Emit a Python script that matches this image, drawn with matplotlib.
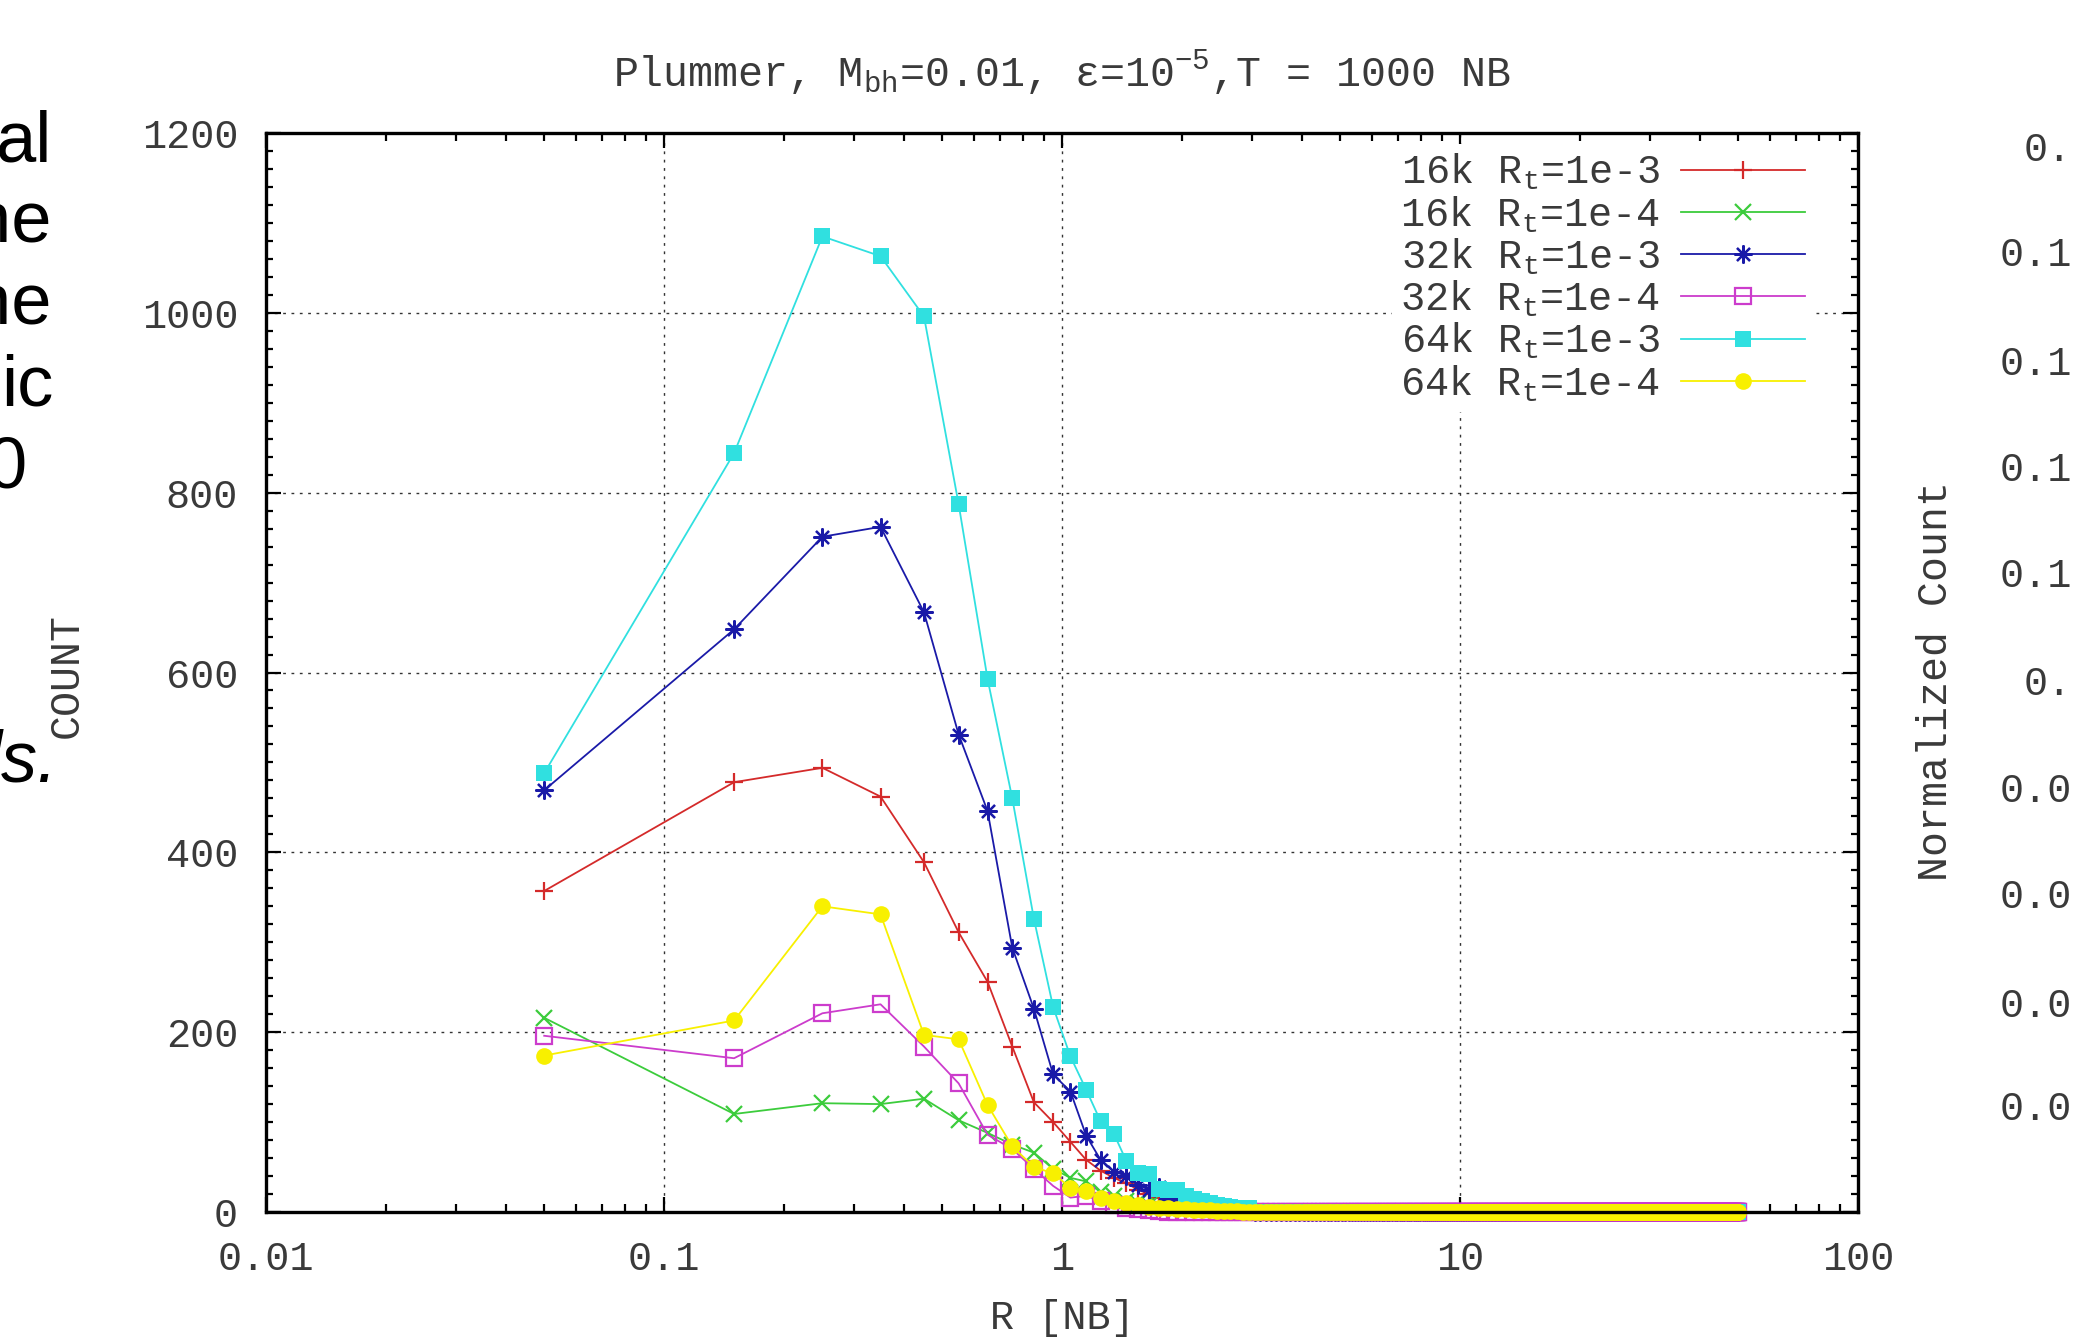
import numpy as np
import matplotlib
matplotlib.use("Agg")
import matplotlib.pyplot as plt
from matplotlib.ticker import FixedLocator, NullFormatter, MultipleLocator

plt.rcParams['font.family'] = ['Liberation Mono', 'DejaVu Sans']
plt.rcParams['mathtext.fontset'] = 'custom'
plt.rcParams['mathtext.rm'] = 'Liberation Mono'
plt.rcParams['mathtext.it'] = 'Liberation Mono:italic'

# radial bins of width 0.1 NB, centres 0.05 ... 49.95
r_bins = np.arange(500) * 0.1 + 0.05

# counts for the first 30 bins (0.05 .. 2.95); everything further out is empty
n16_1e3 = [357, 478, 494, 462, 389, 311, 256, 184, 122, 100,
           78, 58, 46, 38, 32, 25, 20, 16, 13, 10,
           8, 7, 6, 5, 4, 4, 3, 3, 2, 2]
n16_1e4 = [216, 109, 121, 120, 126, 102, 88, 75, 66, 48,
           38, 34, 22, 18, 12, 10, 8, 7, 6, 5,
           4, 4, 3, 3, 2, 2, 2, 1, 1, 1]
n32_1e3 = [469, 648, 751, 762, 667, 531, 446, 294, 226, 153,
           134, 85, 58, 45, 40, 30, 25, 28, 15, 12,
           10, 8, 6, 6, 5, 4, 4, 3, 3, 2]
n32_1e4 = [196, 171, 221, 231, 184, 143, 86, 70, 48, 29,
           16, 18, 12, 8, 5, 3, 2, 1, 0, 0,
           0, 0, 0, 0, 0, 0, 0, 0, 0, 0]
n64_1e3 = [488, 844, 1085, 1063, 996, 787, 593, 460, 326, 228,
           173, 136, 101, 87, 57, 43, 42, 26, 24, 24,
           18, 15, 12, 10, 8, 7, 6, 5, 4, 4]
n64_1e4 = [174, 213, 340, 331, 197, 192, 119, 73, 50, 43,
           27, 23, 16, 12, 10, 8, 6, 5, 4, 3,
           3, 2, 2, 2, 1, 1, 1, 1, 0, 0]
tail = [0] * 470

labels = [r'16k R$_{\mathrm{t}}$=1e-3', r'16k R$_{\mathrm{t}}$=1e-4',
          r'32k R$_{\mathrm{t}}$=1e-3', r'32k R$_{\mathrm{t}}$=1e-4',
          r'64k R$_{\mathrm{t}}$=1e-3', r'64k R$_{\mathrm{t}}$=1e-4']
series = [n16_1e3, n16_1e4, n32_1e3, n32_1e4, n64_1e3, n64_1e4]
colors = ['#d42a2a', '#3ccc3c', '#1a1aa8', '#cc3ccc', '#30e0e0', '#f8f000']
styles = [dict(marker='+', ms=13, mew=1.6),
          dict(marker='x', ms=11, mew=1.6),
          dict(marker=(8, 2, 0), ms=13, mew=1.6),
          dict(marker='s', ms=11, mew=1.6, mfc='none'),
          dict(marker='s', ms=11, mew=0),
          dict(marker='o', ms=12, mew=0)]
text_col = '#3a3a3a'

W, H = 2075, 1337
fig = plt.figure(figsize=(W / 100, H / 100), dpi=100, facecolor='white')
ax = fig.add_axes([266 / W, 1 - 1212 / H, (1858 - 266) / W, (1212 - 133) / H])

for vals, lab, c, st in zip(series, labels, colors, styles):
    ax.plot(r_bins, np.array(vals + tail), color=c, lw=1.3, label=lab,
            clip_on=False, **st)

ax.set_xscale('log')
ax.set_xlim(0.01, 100)
ax.set_ylim(0, 1200)

ax.xaxis.set_major_locator(FixedLocator([0.01, 0.1, 1, 10, 100]))
ax.set_xticklabels(['0.01', '0.1', '1', '10', '100'])
minors = [m * 10.0 ** e for e in range(-2, 2) for m in range(2, 10)]
ax.xaxis.set_minor_locator(FixedLocator(minors))
ax.xaxis.set_minor_formatter(NullFormatter())
ax.yaxis.set_major_locator(MultipleLocator(200))
ax.yaxis.set_minor_locator(MultipleLocator(20))

ax.tick_params(which='both', direction='in', top=True, right=True,
               labelsize=29, width=1.6, color='black', labelcolor=text_col)
ax.tick_params(which='major', length=11, pad=20)
ax.tick_params(which='minor', length=6)
ax.tick_params(axis='y', which='minor', length=5)
for sp in ax.spines.values():
    sp.set_linewidth(2.4)

ax.grid(True, which='major', color='#333333', lw=1.0, ls=(0, (2, 4)))
ax.set_axisbelow(True)

leg = ax.legend(loc='upper right', bbox_to_anchor=(0.972, 0.99),
                markerfirst=False, fontsize=29, frameon=True,
                facecolor='white', edgecolor='none', framealpha=1,
                handlelength=3.1, handletextpad=0.5, labelspacing=0.04,
                borderpad=0.2, borderaxespad=0)
for t in leg.get_texts():
    t.set_color(text_col)

# title and axis captions
fig.text(1062 / W, 1 - 73 / H,
         r'Plummer, M$_{\mathrm{bh}}$=0.01, ε=10$^{-5}$,T = 1000 NB',
         ha='center', va='center', fontsize=30, color=text_col)
fig.text(1062 / W, 1 - 1318 / H, 'R [NB]', ha='center', va='center',
         fontsize=29, color=text_col)
fig.text(67 / W, 1 - 675 / H, 'COUNT', rotation=90, ha='center',
         va='center', fontsize=30, color=text_col)
fig.text(1936 / W, 1 - 681 / H, 'Normalized Count', rotation=90,
         ha='center', va='center', fontsize=30, color=text_col)

# neighbouring panel's tick labels along the right edge
right_labels = ['0.', '0.1', '0.1', '0.1', '0.1', '0.', '0.0', '0.0', '0.0', '0.0']
right_x = [2024, 2000, 2000, 2000, 2000, 2024, 2000, 2000, 2000, 2000]
right_y = [150, 255, 364, 470, 576, 684, 791, 897, 1006, 1109]
for s, x, y in zip(right_labels, right_x, right_y):
    fig.text(x / W, 1 - y / H, s, ha='left', va='center', fontsize=29,
             color=text_col)

# slide text running in from the left
slide_lines = ['al', 'he', 'he', 'ic', '0']
slide_right = [52, 52, 52, 54, 26]
slide_base = [161, 242, 324, 406, 487]
for s, x, y in zip(slide_lines, slide_right, slide_base):
    fig.text(x / W, 1 - y / H, s, ha='right', va='baseline', fontsize=52,
             family='Liberation Sans', color='black')
fig.text(58 / W, 1 - 781 / H, 'ls.', ha='right', va='baseline', fontsize=52,
         family='Liberation Sans', style='italic', color='black')

fig.savefig('out.png', dpi=100, facecolor='white')
